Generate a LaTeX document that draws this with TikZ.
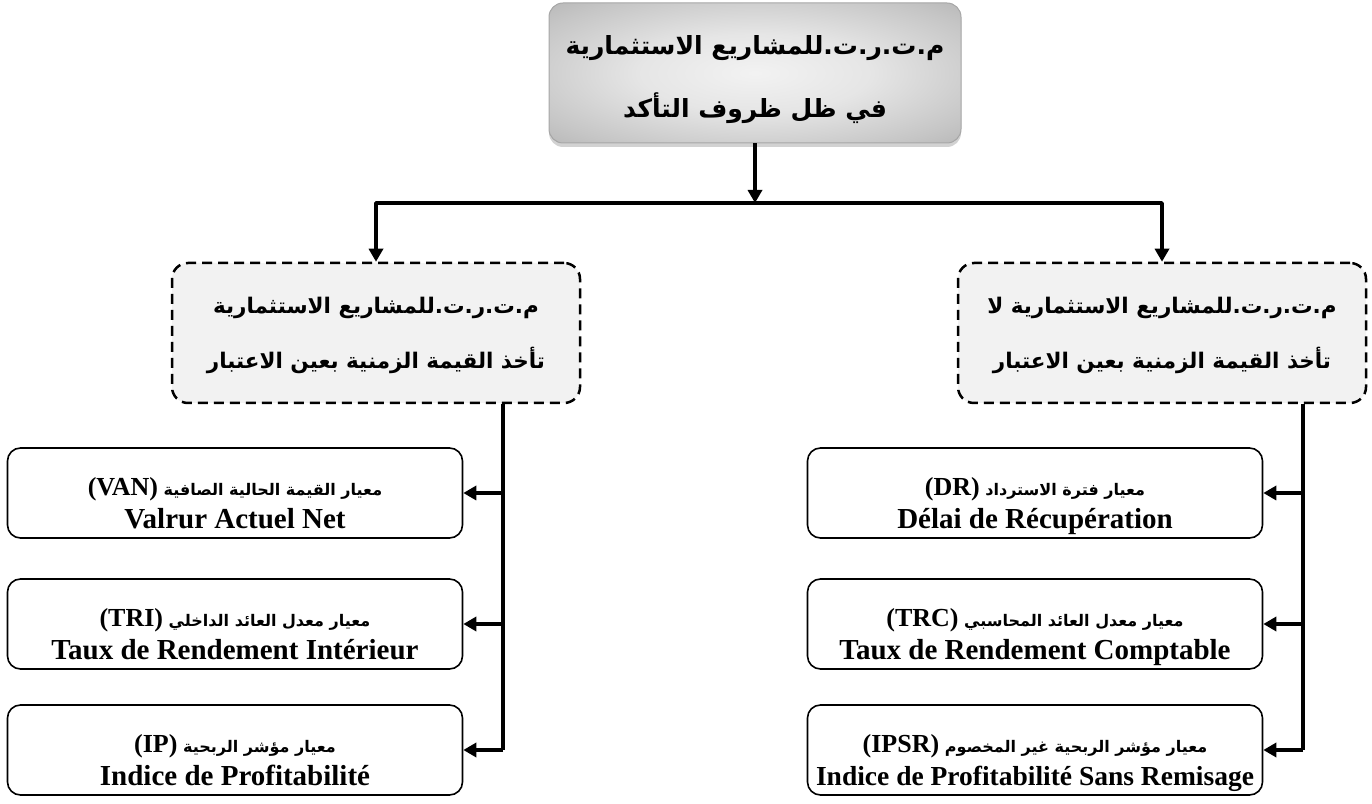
\documentclass[tikz,border=0pt]{standalone}
\usepackage{fontspec}
\setmainfont{Liberation Serif}
\newfontfamily\arabicfont[Script=Arabic]{DejaVu Sans}
\TeXXeTstate=1
\usetikzlibrary{arrows.meta,shadows}
\pgfdeclareradialshading{rootshade}{\pgfpoint{0bp}{0bp}}{color(0bp)=(gray!10); color(14bp)=(gray!20); color(30bp)=(gray!45); color(44bp)=(gray!70); color(50bp)=(gray!80)}
\begin{document}
\begin{tikzpicture}[x=1pt, y=1pt, >={Triangle[length=13pt,width=14pt]}, line join=round,
	rootbox/.style={rounded corners=14pt, draw=gray!70, line width=1pt, shading=rootshade,
		drop shadow={shadow xshift=0pt, shadow yshift=-4pt, fill=gray!70},
		minimum width=412pt, minimum height=140pt, align=center, inner sep=0pt,
		font=\arabicfont\bfseries\fontsize{25}{63}\selectfont},
	dashbox/.style={rounded corners=16pt, draw, dash pattern=on 10pt off 6pt, line width=2.5pt,
		fill=gray!10, minimum width=408pt, minimum height=140pt, align=center, inner sep=0pt,
		font=\arabicfont\bfseries\fontsize{21.5}{55}\selectfont},
	critbox/.style={rounded corners=13pt, draw, line width=1.6pt, fill=white,
		minimum width=455pt, minimum height=90pt, align=center, inner sep=0pt,
		font=\bfseries\fontsize{29}{33}\selectfont},
	bus/.style={line width=3.5pt}]
	\useasboundingbox (0,0) rectangle (1372,803);
	% top of the tree
	\node[rootbox] (root) at (755,730) {\rule{0pt}{36pt}\beginR م.ت.ر.ت.للمشاريع الاستثمارية\endR\\\beginR في ظل ظروف التأكد\endR\rule[-10pt]{0pt}{10pt}};
	\coordinate (split) at (755,600);
	\node[dashbox] (ldash) at (376,470) {\rule{0pt}{25pt}\beginR م.ت.ر.ت.للمشاريع الاستثمارية\endR\\\beginR تأخذ القيمة الزمنية بعين الاعتبار\endR\rule[-9pt]{0pt}{9pt}};
	\node[dashbox] (rdash) at (1162,470) {\rule{0pt}{25pt}\beginR م.ت.ر.ت.للمشاريع الاستثمارية لا\endR\\\beginR تأخذ القيمة الزمنية بعين الاعتبار\endR\rule[-9pt]{0pt}{9pt}};
	\draw[bus,->] (root) -- (split);
	\draw[bus,->] (split) -| (ldash.north);
	\draw[bus,->] (split) -| (rdash.north);
	% left column
	\node[critbox] (van) at (235,310) {\rule{0pt}{46pt}{\arabicfont\fontsize{16}{33}\selectfont\beginR معيار القيمة الحالية الصافية \beginL{\rmfamily\fontsize{26}{33}\selectfont(VAN)}\endL\endR}\\Valrur Actuel Net\rule[-8pt]{0pt}{8pt}};
	\node[critbox] (tri) at (235,179) {\rule{0pt}{46pt}{\arabicfont\fontsize{16}{33}\selectfont\beginR معيار معدل العائد الداخلي \beginL{\rmfamily\fontsize{26}{33}\selectfont(TRI)}\endL\endR}\\Taux de Rendement Intérieur\rule[-8pt]{0pt}{8pt}};
	\node[critbox] (ip) at (235,53) {\rule{0pt}{46pt}{\arabicfont\fontsize{16}{33}\selectfont\beginR معيار مؤشر الربحية \beginL{\rmfamily\fontsize{26}{33}\selectfont(IP)}\endL\endR}\\Indice de Profitabilité\rule[-8pt]{0pt}{8pt}};
	\coordinate (lbus) at (503,470);
	\draw[bus] (ldash.south -| lbus) -- (lbus |- ip);
	\draw[bus,->] (lbus |- van) -- (van.east);
	\draw[bus,->] (lbus |- tri) -- (tri.east);
	\draw[bus,->] (lbus |- ip) -- (ip.east);
	% right column
	\node[critbox] (dr) at (1035,310) {\rule{0pt}{46pt}{\arabicfont\fontsize{16}{33}\selectfont\beginR معيار فترة الاسترداد \beginL{\rmfamily\fontsize{26}{33}\selectfont(DR)}\endL\endR}\\Délai de Récupération\rule[-8pt]{0pt}{8pt}};
	\node[critbox] (trc) at (1035,179) {\rule{0pt}{46pt}{\arabicfont\fontsize{16}{33}\selectfont\beginR معيار معدل العائد المحاسبي \beginL{\rmfamily\fontsize{26}{33}\selectfont(TRC)}\endL\endR}\\Taux de Rendement Comptable\rule[-8pt]{0pt}{8pt}};
	\node[critbox] (ipsr) at (1035,53) {\rule{0pt}{46pt}{\arabicfont\fontsize{16}{33}\selectfont\beginR معيار مؤشر الربحية غير المخصوم \beginL{\rmfamily\fontsize{26}{33}\selectfont(IPSR)}\endL\endR}\\{\fontsize{27.5}{33}\selectfont Indice de Profitabilité Sans Remisage}\rule[-8pt]{0pt}{8pt}};
	\coordinate (rbus) at (1303,470);
	\draw[bus] (rdash.south -| rbus) -- (rbus |- ipsr);
	\draw[bus,->] (rbus |- dr) -- (dr.east);
	\draw[bus,->] (rbus |- trc) -- (trc.east);
	\draw[bus,->] (rbus |- ipsr) -- (ipsr.east);
\end{tikzpicture}
\end{document}
